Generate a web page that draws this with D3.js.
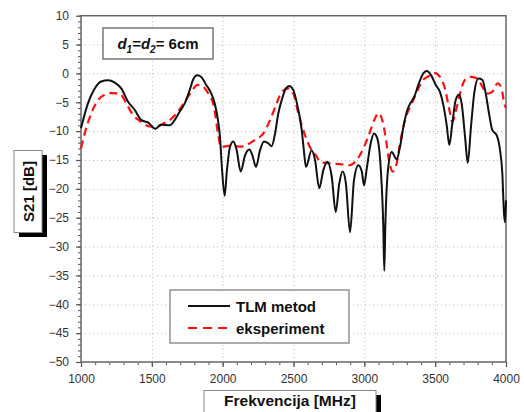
<!DOCTYPE html>
<meta charset="utf-8">
<script src="https://d3js.org/d3.v7.min.js"></script>
<style>
  body { margin: 0; background: #fff; }
  text { font-family: Arial, "Liberation Sans", sans-serif; }
</style>
<div id="chart"></div>
<script>
// black curve - TLM metod
const tlmFreq = [1000,1049,1097,1143,1191,1238,1284,1332,1379,1426,1473,1524,1567,1626,1661,1697,1732,1767,1791,1821,1849,1884,1920,1944,1967,1981,1996,2014,2030,2052,2075,2099,2127,2158,2188,2210,2235,2264,2292,2322,2346,2370,2393,2417,2447,2470,2499,2527,2558,2573,2588,2628,2652,2682,2710,2739,2770,2798,2823,2847,2870,2899,2927,2958,2982,2998,3017,3045,3068,3092,3115,3134,3141,3148,3169,3193,3229,3252,3280,3304,3322,3353,3381,3409,3440,3471,3504,3534,3558,3581,3600,3621,3645,3668,3687,3711,3730,3753,3777,3805,3833,3857,3880,3903,3934,3958,3974,3986,3993,4000];
const tlmS21 = [-9.5,-5.2,-2.6,-1.4,-1.2,-1.6,-2.6,-4.9,-6.3,-8.1,-8.5,-9.6,-8.9,-9.0,-8.1,-6.6,-5.2,-2.9,-1.1,-0.3,-0.6,-2.0,-3.5,-5.2,-8.1,-11,-16.8,-21.2,-16.8,-12.7,-11.8,-13.3,-17.0,-14.2,-13.2,-14.2,-16.2,-13.3,-11.8,-12.1,-12.6,-10.4,-6.9,-4.6,-2.6,-2.2,-2.9,-5.5,-9.8,-13.3,-16.2,-13.3,-15.0,-19.9,-16.8,-15.3,-17.9,-24.0,-19.1,-17.0,-19.1,-27.5,-18.5,-15.9,-17.0,-19.4,-16.5,-12.1,-10.4,-11.3,-16.2,-26.6,-34.2,-26.6,-16.2,-13.6,-14.9,-12.7,-8.7,-6.3,-5.3,-4.0,-2.0,-0.3,0.4,-0.3,-2.0,-3.2,-5.5,-8.9,-12.4,-8.7,-4.6,-3.7,-5.2,-11.0,-15.5,-9.2,-3.2,-0.9,-1.1,-3.5,-6.9,-9.8,-10.7,-13.3,-17.3,-24.3,-25.8,-22];

// red dashed curve - eksperiment
const expFreq = [1000,1026,1073,1120,1167,1214,1273,1320,1367,1426,1485,1532,1579,1626,1685,1732,1779,1821,1861,1904,1939,1967,1990,2026,2070,2122,2170,2228,2287,2334,2381,2417,2464,2499,2534,2581,2628,2664,2687,2758,2828,2899,2946,2993,3040,3075,3099,3130,3153,3176,3200,3228,3252,3287,3322,3346,3381,3416,3452,3494,3534,3569,3600,3621,3645,3675,3711,3753,3800,3833,3864,3903,3941,3969,3987,4000];
const expS21 = [-13,-10.4,-6.9,-4.6,-3.7,-3.4,-3.5,-5.2,-7.2,-8.4,-9.2,-9.2,-8.7,-8.1,-6.6,-4.9,-3.2,-2.0,-2.3,-3.7,-5.8,-10.4,-12.8,-12.6,-12.5,-12.7,-12.4,-11.5,-10.4,-8.1,-5.2,-3.2,-2.6,-3.5,-6.9,-10.7,-13.3,-14.4,-15.3,-15.6,-15.7,-15.9,-15.0,-13.0,-10.1,-7.8,-6.9,-8.4,-11.5,-15.3,-17.0,-15.6,-12.1,-8.1,-5.8,-4.6,-2.6,-1.1,-0.5,0.1,-0.6,-2.6,-6.3,-8.4,-6.6,-3.5,-1.1,-0.6,-0.9,-2.3,-3.5,-3.2,-1.7,-2.6,-5.2,-6];

const xTicks = [1000,1500,2000,2500,3000,3500,4000];
const yTicks = [10,5,0,-5,-10,-15,-20,-25,-30,-35,-40,-45,-50];
const seriesNames = ["TLM metod", "eksperiment"];

const margin = {top: 15.7, right: 18, bottom: 50, left: 81},
    width = 524 - margin.left - margin.right,
    height = 412 - margin.top - margin.bottom;

const root = d3.select("#chart").append("svg")
    .attr("width", 524)
    .attr("height", 412);

const svg = root.append("g")
    .attr("transform", `translate(${margin.left}, ${margin.top})`);

const x = d3.scaleLinear().domain([1000, 4000]).range([0, width]);
const y = d3.scaleLinear().domain([-50, 10]).range([height, 0]);

// dotted grid
svg.append("g")
    .attr("transform", `translate(0, ${height})`)
    .call(d3.axisBottom(x).tickValues(xTicks.slice(1, -1)).tickSize(-height).tickFormat(""))
    .call(g => g.select(".domain").remove())
    .selectAll("line").attr("stroke", "#bbb").attr("stroke-dasharray", "1,3");
svg.append("g")
    .call(d3.axisLeft(y).tickValues(yTicks.slice(1, -1)).tickSize(-width).tickFormat(""))
    .call(g => g.select(".domain").remove())
    .selectAll("line").attr("stroke", "#bbb").attr("stroke-dasharray", "1,3");

// minor ticks
svg.append("g")
    .attr("transform", `translate(0, ${height})`)
    .call(d3.axisBottom(x).tickValues(d3.range(1000, 4001, 100)).tickSize(3).tickFormat(""))
    .call(g => g.select(".domain").remove())
    .selectAll("line").attr("stroke", "#555");
svg.append("g")
    .call(d3.axisLeft(y).tickValues(d3.range(-50, 11, 1)).tickSize(3).tickFormat(""))
    .call(g => g.select(".domain").remove())
    .selectAll("line").attr("stroke", "#555");

// major ticks + labels
const xAxis = svg.append("g")
    .attr("transform", `translate(0, ${height})`)
    .call(d3.axisBottom(x).tickValues(xTicks).tickSize(5).tickPadding(7).tickFormat(d3.format("d")));
const yAxis = svg.append("g")
    .call(d3.axisLeft(y).tickValues(yTicks).tickSize(5).tickPadding(7));
[xAxis, yAxis].forEach(a => {
    a.select(".domain").remove();
    a.selectAll("line").attr("stroke", "#555").attr("stroke-width", 1.2);
    a.selectAll("text").attr("fill", "#333").style("font-size", "12px");
});

// frame
svg.append("rect")
    .attr("width", width).attr("height", height)
    .attr("fill", "none").attr("stroke", "#666").attr("stroke-width", 1.5);

const line = d3.line().curve(d3.curveMonotoneX)
    .x(d => x(d[0])).y(d => y(d[1]));

svg.append("path")
    .datum(expFreq.map((f, i) => [f, expS21[i]]))
    .attr("d", line)
    .attr("fill", "none").attr("stroke", "#ff1010").attr("stroke-width", 2.2)
    .attr("stroke-dasharray", "8,5");

svg.append("path")
    .datum(tlmFreq.map((f, i) => [f, tlmS21[i]]))
    .attr("d", line)
    .attr("fill", "none").attr("stroke", "#111").attr("stroke-width", 2);

// annotation box d1=d2= 6cm
root.append("rect")
    .attr("x", 103).attr("y", 28).attr("width", 110).attr("height", 31)
    .attr("fill", "#fff").attr("stroke", "#777").attr("stroke-width", 1.5);
const ann = root.append("text")
    .attr("x", 158).attr("y", 48.5)
    .attr("text-anchor", "middle")
    .style("font-size", "15px").style("font-weight", "bold").attr("fill", "#111");
ann.append("tspan").style("font-style", "italic").text("d");
ann.append("tspan").style("font-style", "italic").style("font-size", "10px").attr("dy", 4).text("1");
ann.append("tspan").attr("dy", -4).text("=");
ann.append("tspan").style("font-style", "italic").text("d");
ann.append("tspan").style("font-style", "italic").style("font-size", "10px").attr("dy", 4).text("2");
ann.append("tspan").attr("dy", -4).text("= 6cm");

// legend
root.append("rect")
    .attr("x", 170).attr("y", 290).attr("width", 179).attr("height", 53)
    .attr("fill", "#fff").attr("stroke", "#777").attr("stroke-width", 1.2);
const legend = root.append("g");
legend.append("line").attr("x1", 188).attr("x2", 230).attr("y1", 306).attr("y2", 306)
    .attr("stroke", "#111").attr("stroke-width", 2);
legend.append("line").attr("x1", 188).attr("x2", 230).attr("y1", 328).attr("y2", 328)
    .attr("stroke", "#ff1010").attr("stroke-width", 2.2).attr("stroke-dasharray", "9,6");
legend.selectAll("text")
    .data(seriesNames)
    .join("text")
    .attr("x", 236)
    .attr("y", (d, i) => 311.5 + i * 22)
    .style("font-size", "15px").style("font-weight", "bold").attr("fill", "#111")
    .text(d => d);

// y label box with shadow
root.append("rect").attr("x", 19).attr("y", 155).attr("width", 28).attr("height", 82).attr("fill", "#000");
root.append("rect").attr("x", 14).attr("y", 150.5).attr("width", 28).attr("height", 82)
    .attr("fill", "#fff").attr("stroke", "#888").attr("stroke-width", 1);
root.append("text")
    .attr("transform", "translate(33.5, 191.5) rotate(-90)")
    .attr("text-anchor", "middle")
    .style("font-size", "15px").style("font-weight", "bold").attr("fill", "#111")
    .text("S21 [dB]");

// x label box with shadow
root.append("rect").attr("x", 209).attr("y", 395).attr("width", 172).attr("height", 30).attr("fill", "#000");
root.append("rect").attr("x", 204).attr("y", 390.5).attr("width", 172).attr("height", 30)
    .attr("fill", "#fff").attr("stroke", "#888").attr("stroke-width", 1);
root.append("text")
    .attr("x", 290).attr("y", 406)
    .attr("text-anchor", "middle")
    .style("font-size", "15.5px").style("font-weight", "bold").attr("fill", "#111")
    .text("Frekvencija [MHz]");
</script>
